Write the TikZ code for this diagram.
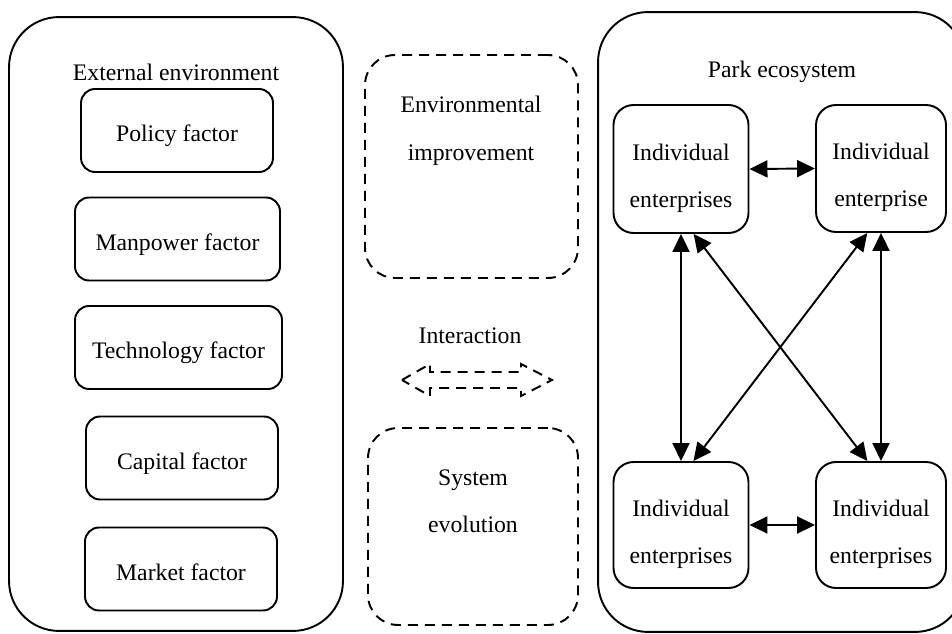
\documentclass[tikz,border=0pt]{standalone}
\usepackage{fontspec}
\setmainfont{Liberation Serif}
\usetikzlibrary{arrows.meta}

% two lines of text, set a little below the middle of the box
\newcommand{\entlabel}[2]{\raisebox{-3pt}[\height][\depth]{\begin{tabular}{@{}c@{}}#1\\#2\end{tabular}}}

\tikzset{
  bigbox/.style={draw, line width=1.1pt, rounded corners=1cm, inner sep=0pt},
  factorbox/.style={draw, line width=1.1pt, rounded corners=0.28cm, minimum height=1.66cm, text height=13pt, text depth=0pt},
  entbox/.style={draw, line width=1.1pt, rounded corners=0.4cm, inner sep=0pt},
  dashline/.style={line width=1.1pt, dash pattern=on 0.2cm off 0.14cm},
  dashbox/.style={draw, dashline, rounded corners=0.6cm},
  lbl/.style={align=center, inner sep=0pt},
  link/.style={line width=1.1pt, {Triangle[length=0.36cm,width=0.34cm]}-{Triangle[length=0.36cm,width=0.34cm]}}
}

\begin{document}
\begin{tikzpicture}[x=0.02cm, y=-0.02cm, every node/.style={font=\fontsize{13.5}{27}\selectfont}]
  \useasboundingbox (0,0) rectangle (952,634);
  \clip (0,0) rectangle (952,634);

  % external environment
  \node[bigbox, minimum width=6.68cm, minimum height=12.28cm] (extenv) at (176,324) {};
  \node[lbl] (extlbl) at (176,72) {External environment};
  \node[factorbox, minimum width=3.84cm] (policy) at (177,130.5) {Policy factor};
  \node[factorbox, minimum width=4.1cm] (manpower) at (177.5,239) {Manpower factor};
  \node[factorbox, minimum width=4.14cm] (tech) at (178.5,347.5) {Technology factor};
  \node[factorbox, minimum width=3.84cm] (capital) at (182,458) {Capital factor};
  \node[factorbox, minimum width=3.84cm] (market) at (181,569) {Market factor};

  % middle
  \node[dashbox, minimum width=4.26cm, minimum height=4.46cm] (envbox) at (471.5,166.5) {};
  \node[lbl] (envlbl) at (471,131) {Environmental\\improvement};
  \node[lbl] (interlbl) at (470,336) {Interaction};
  % hollow double arrow
  \draw[dashline] (402,380) -- (430,364) -- (430,372) -- (521,372) -- (521,364) -- (552,380)
    -- (521,396) -- (521,388) -- (430,388) -- (430,396) -- cycle;
  \node[dashbox, minimum width=4.2cm, minimum height=3.94cm] (evobox) at (473,526.5) {};
  \node[lbl] (evolbl) at (473,501) {System\\evolution};

  % park ecosystem
  \node[bigbox, minimum width=7.34cm, minimum height=12.4cm] (park) at (781.5,322) {};
  \node[lbl] (parklbl) at (782,72) {Park ecosystem};
  \node[entbox, minimum width=2.7cm, minimum height=2.56cm] (ent1) at (681,169) {\entlabel{Individual}{enterprises}};
  \node[entbox, minimum width=2.6cm, minimum height=2.54cm] (ent2) at (881,168.5) {\entlabel{Individual}{enterprise}};
  \node[entbox, minimum width=2.7cm, minimum height=2.52cm] (ent3) at (681,525) {\entlabel{Individual}{enterprises}};
  \node[entbox, minimum width=2.6cm, minimum height=2.52cm] (ent4) at (881,525) {\entlabel{Individual}{enterprises}};

  \draw[link] (ent1.east) -- (ent2.west);
  \draw[link] (ent3.east) -- (ent4.west);
  \draw[link] (ent1.south) -- (ent3.north);
  \draw[link] (ent2.south) -- (ent4.north);
  \draw[link] (ent1.-79) -- (ent4.102);
  \draw[link] (ent2.-102) -- (ent3.79);
\end{tikzpicture}
\end{document}
